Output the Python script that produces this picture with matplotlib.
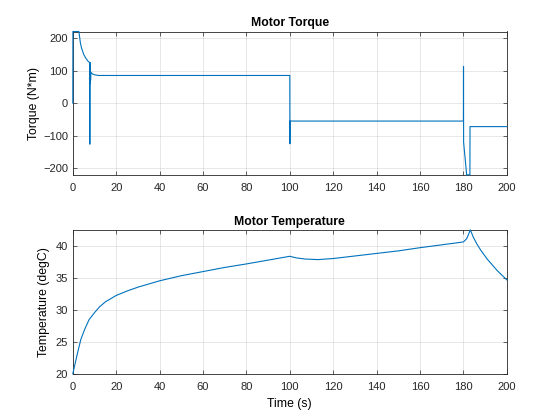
import numpy as np
import matplotlib
matplotlib.use("Agg")
import matplotlib.pyplot as plt

# torque trace (saturates at the +-220 axis limits)
torque_t = [0, 0.05, 2.8, 3.0, 3.5, 4.0, 5.0, 6.0, 7.0, 7.8, 7.85, 7.9, 8.0, 8.1, 8.2, 8.3,
            9, 10, 12, 100, 100.05, 100.1, 180, 180.05, 180.1, 181.5, 183, 183.05, 200]
torque_v = [0, 220, 220, 210, 185, 170, 150, 138, 129, 124, -126, 125, 60, 120, 70, 95,
            90, 87, 85, 85, -125, -55, -55, 113, -120, -220, -220, -72, -72]

# motor temperature
temp_t = [0, 1, 2, 3.7, 5.5, 7.5, 10, 12.3, 15, 20, 25, 30, 40, 50, 60, 70, 80, 90, 100,
          103, 107, 113, 120, 130, 140, 150, 160, 170, 180, 181.5, 182.5, 183.2, 184.5,
          186, 188, 191, 195.6, 200]
temp_v = [20, 21.5, 23, 25.4, 27.0, 28.5, 29.6, 30.5, 31.3, 32.3, 33.0, 33.6, 34.6, 35.4,
          36.05, 36.7, 37.25, 37.85, 38.45, 38.2, 38.02, 37.93, 38.1, 38.5, 38.9, 39.3,
          39.8, 40.25, 40.7, 41.2, 42.0, 42.6, 41.5, 40.5, 39.4, 38.0, 36.2, 34.75]

plt.rcParams['font.family'] = ['Liberation Sans', 'DejaVu Sans']
line_color = '#0072BD'

fig = plt.figure(figsize=(5.6, 4.2), dpi=100)
ax1 = fig.add_axes([0.13, 0.5838, 0.775, 0.3412])
ax2 = fig.add_axes([0.13, 0.11, 0.775, 0.3412])


def style(ax):
    ax.grid(True, color='#262626', alpha=0.15, linewidth=0.5)
    ax.tick_params(direction='in', top=True, right=True, labelsize=8,
                   length=3, width=0.5, colors='#262626')
    ax.tick_params(axis='x', pad=6)
    for s in ax.spines.values():
        s.set_linewidth(0.6)
        s.set_color('#262626')
    ax.set_xlim(0, 200)
    ax.set_xticks(np.arange(0, 201, 20))


ax1.plot(torque_t, torque_v, color=line_color, linewidth=0.8, zorder=3, clip_on=False)
style(ax1)
ax1.set_ylim(-220, 220)
ax1.set_yticks([-200, -100, 0, 100, 200])
ax1.set_title('Motor Torque', fontsize=8.8, fontweight='bold', pad=4)
ax1.set_ylabel('Torque (N*m)', fontsize=8.8, labelpad=2)

ax2.plot(temp_t, temp_v, color=line_color, linewidth=0.8, zorder=3, clip_on=False)
style(ax2)
ax2.set_ylim(20, 42.5)
ax2.set_yticks([20, 25, 30, 35, 40])
ax2.set_title('Motor Temperature', fontsize=8.8, fontweight='bold', pad=4)
ax2.set_ylabel('Temperature (degC)', fontsize=8.8, labelpad=4)
ax2.set_xlabel('Time (s)', fontsize=8.8, labelpad=4)

fig.savefig('out.png', dpi=100)
